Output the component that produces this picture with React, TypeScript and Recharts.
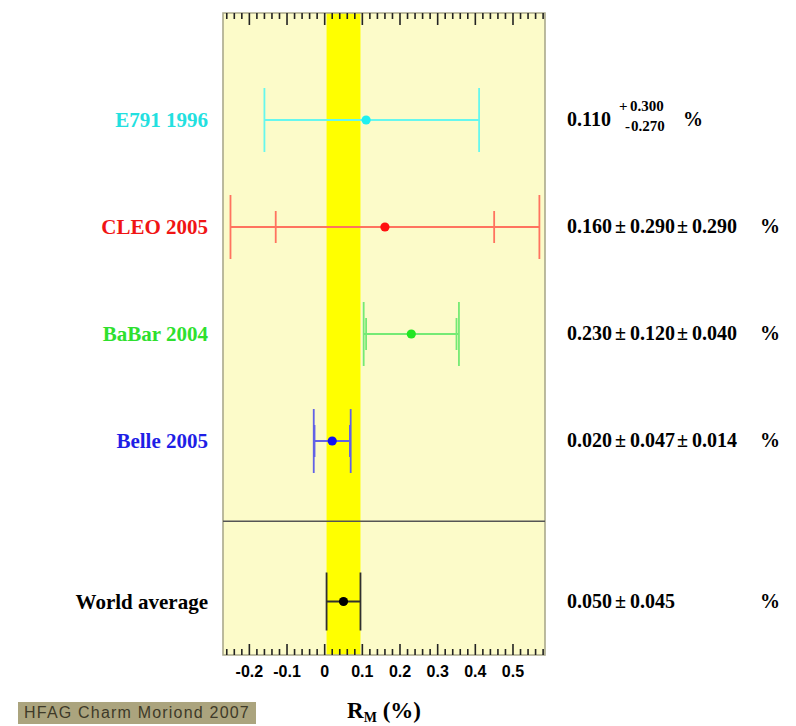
import React from 'react';
import {
  ScatterChart,
  Scatter,
  XAxis,
  YAxis,
  ErrorBar,
  ReferenceArea,
  ReferenceLine,
} from 'recharts';

// Measurements of the mixing rate R_M (%)
const experiments = ['E791 1996', 'CLEO 2005', 'BaBar 2004', 'Belle 2005', 'World average'];
const rmValues = [0.11, 0.16, 0.23, 0.02, 0.05];
const statLow = [0.27, 0.29, 0.12, 0.047, 0.045];
const statHigh = [0.3, 0.29, 0.12, 0.047, 0.045];
const systErr = [0, 0.29, 0.04, 0.014, 0];
const rowPositions = [5, 4, 3, 2, 0.5];
const dotColors = ['#1ff0f0', '#ff1010', '#22e622', '#1010f0', '#000000'];
const lineColors = ['#66f7ee', '#ff735f', '#74ea74', '#6262e6', '#303030'];
const labelColors = ['#22e0e0', '#f01414', '#2ee02e', '#1e1ee6', '#000000'];

// Averaged band and plot range
const averageValue = 0.05;
const averageError = 0.045;
const xDomain = [-0.27, 0.585];
const yDomain = [0, 6];
const separatorY = 1.25;

const xTicks = [
  -0.26, -0.24, -0.22, -0.2, -0.18, -0.16, -0.14, -0.12, -0.1, -0.08, -0.06, -0.04, -0.02,
  0, 0.02, 0.04, 0.06, 0.08, 0.1, 0.12, 0.14, 0.16, 0.18, 0.2, 0.22, 0.24, 0.26, 0.28, 0.3,
  0.32, 0.34, 0.36, 0.38, 0.4, 0.42, 0.44, 0.46, 0.48, 0.5, 0.52, 0.54, 0.56, 0.58,
];

const serif = '"Liberation Serif", "Times New Roman", serif';
const sans = '"Liberation Sans", Arial, sans-serif';

const isMajor = (v: number) => Math.abs(v * 10 - Math.round(v * 10)) < 1e-6;
const fmtTick = (v: number) => (Math.abs(v) < 1e-9 ? '0' : String(Math.round(v * 10) / 10));

const seriesData = experiments.map((name, i) => {
  const tot = Math.sqrt(statLow[i] ** 2 + systErr[i] ** 2);
  const totHi = Math.sqrt(statHigh[i] ** 2 + systErr[i] ** 2);
  return {
    name,
    x: rmValues[i],
    y: rowPositions[i],
    stat: [statLow[i], statHigh[i]],
    tot: [tot, totHi],
  };
});

const BottomTick = (props: any) => {
  const { x, y, payload } = props;
  const v = payload.value as number;
  const major = isMajor(v);
  return (
    <g>
      <line x1={x} x2={x} y1={y} y2={y - (major ? 11 : 6)} stroke="#222" strokeWidth={1.6} />
      {major && (
        <text x={x} y={y + 22} textAnchor="middle" fontFamily={sans} fontWeight="bold" fontSize={16} fill="#000">
          {fmtTick(v)}
        </text>
      )}
    </g>
  );
};

const TopTick = (props: any) => {
  const { x, y, payload } = props;
  const major = isMajor(payload.value as number);
  return <line x1={x} x2={x} y1={y} y2={y + (major ? 12 : 6)} stroke="#222" strokeWidth={1.6} />;
};

const NameTick = (props: any) => {
  const { x, y, payload } = props;
  const i = rowPositions.indexOf(payload.value);
  if (i < 0) return null;
  return (
    <text x={x} y={y + 7} textAnchor="end" fontFamily={serif} fontWeight="bold" fontSize={21} fill={labelColors[i]}>
      {experiments[i]}
    </text>
  );
};

const ValueTick = (props: any) => {
  const { x, y, payload } = props;
  const i = rowPositions.indexOf(payload.value);
  if (i < 0) return null;
  const v = rmValues[i].toFixed(3);
  const common = { fontFamily: serif, fontWeight: 'bold' as const, fill: '#000' };
  if (statLow[i] !== statHigh[i]) {
    return (
      <g>
        <text x={x} y={y + 6} fontSize={20} {...common}>{v}</text>
        <text x={x + 52} y={y - 9} fontSize={15} {...common}>+</text>
        <text x={x + 63} y={y - 9} fontSize={15} {...common}>{statHigh[i].toFixed(3)}</text>
        <text x={x + 58} y={y + 11} fontSize={15} {...common}>-</text>
        <text x={x + 64} y={y + 11} fontSize={15} {...common}>{statLow[i].toFixed(3)}</text>
        <text x={x + 116} y={y + 6} fontSize={20} {...common}>%</text>
      </g>
    );
  }
  const nums = [v, statLow[i].toFixed(3)];
  if (systErr[i] > 0) nums.push(systErr[i].toFixed(3));
  const numOffsets = [0, 63, 125];
  const pmOffsets = [48, 110];
  return (
    <g>
      {nums.map((n, k) => (
        <text key={'n' + k} x={x + numOffsets[k]} y={y + 6} fontSize={20} {...common}>{n}</text>
      ))}
      {nums.slice(1).map((_, k) => (
        <text key={'p' + k} x={x + pmOffsets[k]} y={y + 6} fontSize={20} {...common}>±</text>
      ))}
      <text x={x + 193} y={y + 6} fontSize={20} {...common}>%</text>
    </g>
  );
};

const AxisTitle = (props: any) => {
  const { viewBox } = props;
  const cx = viewBox.x + viewBox.width / 2;
  const by = viewBox.y + 63;
  return (
    <text x={cx} y={by} textAnchor="middle" fontFamily={serif} fontWeight="bold" fontSize={23} fill="#000">
      <tspan>R</tspan>
      <tspan fontSize={14} dy={4}>M</tspan>
      <tspan dy={-4}> (%)</tspan>
    </text>
  );
};

const Hidden = () => <g />;

export default function App() {
  return (
    <div style={{ position: 'relative', width: 780, height: 718 }}>
      <ScatterChart width={780} height={718} margin={{ top: 0, right: 0, bottom: 0, left: 0 }}>
        <XAxis
          type="number"
          dataKey="x"
          domain={xDomain}
          allowDataOverflow
          ticks={xTicks}
          interval={0}
          height={71}
          tickSize={0}
          tickMargin={0}
          tickLine={false}
          axisLine={false}
          tick={<BottomTick />}
          label={<AxisTitle />}
        />
        <XAxis
          xAxisId="top"
          orientation="top"
          type="number"
          dataKey="x"
          domain={xDomain}
          allowDataOverflow
          ticks={xTicks}
          interval={0}
          height={5}
          tickSize={0}
          tickMargin={0}
          tickLine={false}
          axisLine={false}
          tick={<TopTick />}
        />
        <YAxis
          type="number"
          dataKey="y"
          domain={yDomain}
          allowDataOverflow
          ticks={rowPositions}
          interval={0}
          width={215}
          tickSize={0}
          tickMargin={15}
          tickLine={false}
          axisLine={false}
          tick={<NameTick />}
        />
        <YAxis
          yAxisId="right"
          orientation="right"
          type="number"
          dataKey="y"
          domain={yDomain}
          allowDataOverflow
          ticks={rowPositions}
          interval={0}
          width={243}
          tickSize={0}
          tickMargin={22}
          tickLine={false}
          axisLine={false}
          tick={<ValueTick />}
        />
        <ReferenceArea x1={xDomain[0]} x2={xDomain[1]} y1={yDomain[0]} y2={yDomain[1]} fill="#fcfbc9" fillOpacity={1} stroke="none" />
        <ReferenceArea
          x1={averageValue - averageError}
          x2={averageValue + averageError}
          y1={yDomain[0]}
          y2={yDomain[1]}
          fill="#ffff00"
          fillOpacity={1}
          stroke="none"
        />
        <ReferenceLine y={separatorY} stroke="#555" strokeWidth={1.6} />
        <ReferenceArea x1={xDomain[0]} x2={xDomain[1]} y1={yDomain[0]} y2={yDomain[1]} fill="none" stroke="#aaa98c" strokeWidth={1.6} />
        {/* invisible series that binds the top scale and the right-hand label axis */}
        <Scatter
          name="scale-binding"
          xAxisId="top"
          yAxisId="right"
          data={seriesData}
          isAnimationActive={false}
          shape={<Hidden />}
        />
        {seriesData.map((d, i) => (
          <Scatter
            key={d.name}
            name={d.name}
            data={[d]}
            isAnimationActive={false}
            shape={(p: any) => <circle cx={p.cx} cy={p.cy} r={4.6} fill={dotColors[i]} />}
          >
            {systErr[i] > 0 && (
              <ErrorBar dataKey="tot" direction="x" width={32} stroke={lineColors[i]} strokeWidth={1.8} isAnimationActive={false} />
            )}
            <ErrorBar
              dataKey="stat"
              direction="x"
              width={systErr[i] > 0 ? 16 : i === 4 ? 29 : 32}
              stroke={lineColors[i]}
              strokeWidth={1.8}
              isAnimationActive={false}
            />
          </Scatter>
        ))}
      </ScatterChart>
      <div
        style={{
          position: 'absolute',
          left: 10,
          top: 694,
          width: 238,
          height: 22,
          background: '#aba47e',
          color: '#3e3a28',
          fontFamily: sans,
          fontSize: 16,
          lineHeight: '22px',
          letterSpacing: 1.2,
          textAlign: 'center',
          whiteSpace: 'nowrap',
        }}
      >
        HFAG Charm Moriond 2007
      </div>
    </div>
  );
}
